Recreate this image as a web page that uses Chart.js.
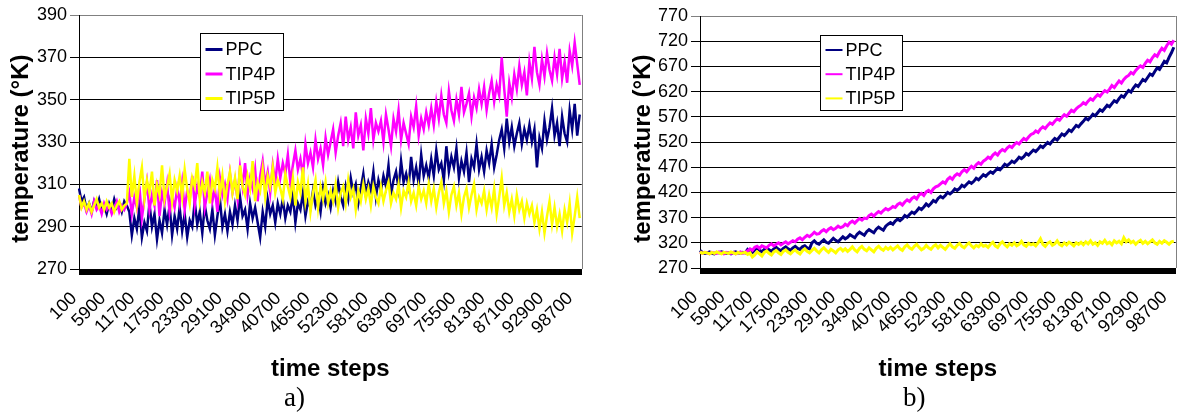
<!DOCTYPE html>
<html>
<head>
<meta charset="utf-8">
<script src="https://cdn.jsdelivr.net/npm/chart.js@4.4.1/dist/chart.umd.min.js"></script>
<style>
  html, body { margin: 0; padding: 0; background: #fff; }
  body { width: 1204px; height: 412px; position: relative; overflow: hidden; }
  .panel { position: absolute; top: 0; height: 395px; }
  #panelA { left: 0; width: 610px; }
  #panelB { left: 620px; width: 584px; }
  .caption { position: absolute; top: 384px; line-height: 27px; font-size: 27px; color: #000;
             font-family: "Liberation Serif", "Times New Roman", serif; }
</style>
</head>
<body>
<div class="panel" id="panelA"><canvas id="chartA"></canvas></div>
<div class="panel" id="panelB"><canvas id="chartB"></canvas></div>
<div class="caption" style="left:284px">a)</div>
<div class="caption" style="left:903px">b)</div>
<script>
// Time axis: one category every 100 simulation steps
const firstStep = 100;
const stepInterval = 100;
const stepCount = 1000;
// Temperatures were recorded every 500 steps
const sampleInterval = 500;

const xTickLabels = [100, 5900, 11700, 17500, 23300, 29100, 34900, 40700, 46500,
  52300, 58100, 63900, 69700, 75500, 81300, 87100, 92900, 98700];

const seriesNames = ['PPC', 'TIP4P', 'TIP5P'];
const seriesColors = ['#000080', '#FF00FF', '#FFFF00'];

const yTicksA = [270, 290, 310, 330, 350, 370, 390];
const yTicksB = [270, 320, 370, 420, 470, 520, 570, 620, 670, 720, 770];

// a) temperatures (K)
const ppcA = [
  308, 302, 304, 298, 301, 297, 302, 299, 303, 298, 300, 296, 301, 298, 303, 299, 301, 297, 302, 300,
  297, 286, 294, 289, 299, 285, 292, 288, 301, 290, 296, 284, 293, 287, 298, 291, 300, 286, 295, 289,
  299, 288, 296, 285, 293, 290, 302, 291, 297, 287, 300, 293, 289, 298, 286, 295, 303, 290, 296, 288,
  297, 291, 300, 293, 304, 295, 298, 289, 301, 294, 299, 292, 285, 297, 290, 303, 296, 300, 292, 301,
  296, 303, 294, 300, 297, 305, 292, 301, 298, 306, 295, 302, 299, 307, 300, 304, 297, 308, 301, 305,
  299, 307, 302, 311, 304, 300, 309, 303, 313, 306, 310, 301, 308, 315, 305, 311, 307, 316, 304, 312,
  307, 314, 309, 319, 305, 312, 316, 308, 321, 311, 315, 309, 323, 312, 318, 310, 324, 314, 319, 313,
  322, 314, 326, 317, 320, 312, 328, 316, 323, 318, 327, 313, 321, 316, 325, 311, 322, 318, 329, 317,
  323, 316, 326, 320, 329, 318, 324, 331, 336, 327, 341, 330, 337, 328, 334, 339, 329, 336, 331, 338,
  330, 336, 318, 332, 327, 340, 331, 337, 346, 333, 339, 328, 342, 334, 330, 345, 336, 348, 333, 343
];
const tip4pA = [
  305, 299, 301, 297, 300, 296, 302, 298, 300, 296, 301, 298, 300, 296, 299, 302, 297, 300, 298, 301,
  306, 296, 304, 299, 309, 294, 303, 311, 298, 305, 300, 312, 295, 306, 301, 310, 297, 304, 299, 308,
  301, 311, 298, 307, 303, 314, 300, 309, 304, 316, 299, 306, 312, 302, 308, 297, 313, 305, 310, 303,
  315, 306, 312, 303, 318, 309, 320, 305, 313, 308, 317, 302, 314, 321, 310, 316, 306, 319, 311, 322,
  313, 320, 315, 324, 311, 319, 326, 317, 322, 314, 329, 320, 325, 318, 331, 322, 327, 319, 332, 324,
  330, 336, 325, 333, 339, 328, 342, 331, 337, 327, 344, 333, 338, 326, 341, 334, 346, 331, 339, 335,
  340, 330, 343, 336, 328, 341, 335, 345, 331, 339, 334, 329, 342, 337, 347, 333, 341, 336, 344, 338,
  346, 338, 349, 341, 352, 343, 339, 354, 345, 340, 350, 343, 356, 344, 348, 353, 342, 351, 346, 355,
  348, 356, 345, 353, 359, 349, 357, 352, 370, 355, 342, 358, 351, 362, 355, 366, 357, 363, 352, 368,
  360, 375, 363, 357, 369, 361, 372, 364, 359, 370, 362, 374, 360, 368, 358, 373, 366, 377, 367, 357
];
const tip5pA = [
  305, 299, 302, 298, 301, 297, 300, 303, 299, 301, 298, 302, 299, 301, 297, 300, 302, 298, 300, 301,
  322, 304, 314, 301, 311, 318, 303, 312, 306, 316, 300, 310, 305, 319, 303, 309, 315, 302, 312, 307,
  314, 304, 317, 308, 301, 313, 309, 320, 303, 311, 306, 316, 301, 312, 308, 318, 305, 314, 302, 310,
  316, 306, 313, 303, 319, 309, 305, 314, 308, 321, 302, 311, 307, 317, 304, 314, 309, 318, 306, 312,
  308, 303, 315, 309, 304, 313, 300, 311, 306, 318, 302, 310, 297, 306, 312, 299, 309, 303, 311, 301,
  307, 302, 310, 299, 306, 309, 301, 312, 304, 308, 298, 307, 302, 310, 303, 308, 300, 309, 304, 301,
  309, 302, 307, 311, 301, 306, 303, 310, 299, 307, 304, 311, 302, 306, 300, 309, 303, 307, 301, 310,
  302, 308, 299, 306, 311, 301, 307, 297, 305, 309, 300, 306, 296, 304, 308, 299, 305, 310, 298, 304,
  301, 307, 298, 305, 299, 308, 296, 304, 313, 300, 306, 297, 303, 295, 305, 298, 302, 294, 301, 296,
  300, 292, 298, 289, 297, 287, 295, 302, 291, 299, 290, 296, 288, 298, 292, 301, 287, 295, 304, 294
];

// b) temperatures (K)
const ppcB = [
  305, 301, 299, 300, 302, 299, 298, 301, 300, 302, 301, 299, 300, 298, 301, 302, 300, 299, 301, 300,
  307, 303, 301, 306, 309, 305, 302, 307, 310, 306, 303, 308, 311, 307, 304, 309, 312, 308, 305, 310,
  313, 309, 307, 312, 314, 310, 308, 320, 324, 319, 317, 322, 326, 321, 319, 324, 329, 325, 322, 327,
  332, 328, 331, 336, 333, 330, 337, 341, 338, 335, 342, 346, 343, 340, 347, 351, 348, 345, 353, 357,
  360, 357, 363, 367, 364, 368, 374, 371, 376, 381, 378, 383, 389, 386, 391, 397, 393, 398, 404, 401,
  408, 412, 409, 414, 420, 417, 421, 427, 424, 428, 434, 431, 436, 441, 438, 442, 448, 445, 450, 455,
  452, 457, 461, 458, 463, 468, 465, 470, 476, 473, 477, 482, 479, 484, 490, 487, 491, 497, 494, 499,
  504, 501, 506, 512, 509, 514, 519, 516, 522, 527, 524, 530, 536, 533, 538, 544, 541, 547, 553, 550,
  556, 561, 567, 564, 569, 575, 572, 578, 584, 581, 587, 593, 590, 596, 602, 599, 606, 612, 609, 616,
  622, 619, 627, 633, 630, 637, 644, 641, 648, 655, 652, 660, 667, 664, 672, 680, 677, 688, 697, 708
];
const tip4pB = [
  302, 299, 301, 300, 298, 301, 300, 299, 302, 300, 298, 301, 300, 299, 301, 298, 300, 302, 299, 301,
  304, 308, 305, 311, 313, 309, 314, 312, 310, 315, 318, 314, 317, 320, 316, 319, 322, 318, 321, 324,
  322, 327, 330, 326, 331, 335, 332, 336, 341, 337, 338, 343, 346, 342, 347, 350, 346, 349, 353, 350,
  352, 357, 354, 360, 363, 359, 364, 368, 365, 369, 368, 374, 377, 373, 378, 382, 379, 384, 388, 385,
  388, 392, 390, 396, 399, 395, 401, 405, 402, 408, 411, 407, 415, 418, 414, 421, 424, 420, 427, 431,
  433, 437, 441, 438, 446, 450, 446, 453, 457, 454, 461, 465, 461, 467, 472, 468, 475, 479, 476, 482,
  485, 490, 487, 494, 498, 494, 501, 505, 502, 508, 512, 509, 515, 519, 516, 522, 527, 524, 530, 535,
  537, 542, 539, 546, 550, 547, 553, 558, 555, 561, 566, 563, 569, 574, 571, 577, 583, 580, 586, 590,
  593, 598, 595, 601, 606, 603, 609, 614, 611, 617, 622, 619, 625, 632, 628, 635, 641, 637, 644, 649,
  652, 658, 655, 662, 667, 671, 668, 676, 682, 679, 687, 693, 690, 699, 706, 702, 711, 718, 714, 722
];
const tip5pB = [
  302, 299, 301, 300, 298, 301, 299, 302, 300, 298, 301, 300, 299, 302, 300, 298, 301, 299, 300, 301,
  297, 300, 292, 296, 302, 298, 294, 301, 304, 299, 296, 302, 305, 300, 297, 303, 306, 301, 298, 303,
  306, 301, 298, 304, 308, 303, 300, 305, 309, 304, 300, 306, 310, 305, 301, 307, 304, 300, 306, 309,
  304, 308, 303, 307, 312, 306, 302, 309, 313, 307, 304, 310, 306, 302, 309, 313, 308, 305, 311, 307,
  311, 306, 310, 314, 308, 305, 312, 316, 310, 307, 313, 317, 311, 306, 309, 315, 310, 307, 313, 316,
  310, 315, 311, 307, 313, 318, 312, 309, 315, 319, 313, 310, 316, 320, 314, 310, 315, 312, 318, 313,
  315, 311, 317, 321, 314, 311, 318, 322, 316, 312, 318, 315, 320, 314, 317, 323, 316, 313, 319, 316,
  318, 314, 320, 328, 317, 313, 319, 322, 315, 318, 324, 317, 314, 320, 316, 321, 318, 314, 320, 317,
  321, 316, 322, 318, 324, 317, 320, 315, 322, 319, 325, 318, 321, 316, 324, 320, 323, 318, 330, 322,
  326, 320, 323, 317, 322, 325, 319, 323, 318, 322, 326, 320, 317, 323, 319, 324, 321, 317, 322, 323
];

const timeSteps = [];
for (let k = 0; k < stepCount; k++) timeSteps.push(firstStep + k * stepInterval);
const labelledSteps = new Set(xTickLabels);

const FONT = "'Liberation Sans', Arial, Helvetica, sans-serif";
Chart.defaults.font.family = FONT;
Chart.defaults.color = '#000';

function toPoints(values) {
  return values.map((v, i) => ({ x: firstStep + i * sampleInterval, y: v }));
}

// Boxed legend drawn inside the plot area
const boxedLegend = {
  id: 'boxedLegend',
  afterDatasetsDraw(chart, args, o) {
    const { ctx, chartArea } = chart;
    const x0 = Math.round(chartArea.left + o.left) + 0.5;
    const y0 = Math.round(chartArea.top + o.top) + 0.5;
    ctx.save();
    ctx.fillStyle = '#fff';
    ctx.fillRect(x0, y0, o.width, o.height);
    ctx.strokeStyle = '#000';
    ctx.lineWidth = 1;
    ctx.strokeRect(x0, y0, o.width, o.height);
    ctx.font = o.fontSize + 'px ' + FONT;
    ctx.textBaseline = 'middle';
    ctx.textAlign = 'left';
    chart.data.datasets.forEach((ds, k) => {
      const cy = y0 + o.firstRow + k * o.rowHeight;
      ctx.strokeStyle = ds.borderColor;
      ctx.lineWidth = o.sampleWidth;
      ctx.beginPath();
      ctx.moveTo(x0 + 5, cy);
      ctx.lineTo(x0 + 22, cy);
      ctx.stroke();
      ctx.fillStyle = '#000';
      ctx.fillText(ds.label, x0 + 25, cy + 1);
    });
    ctx.restore();
  }
};

// Grey frame on the right edge of the plot area
const plotFrame = {
  id: 'plotFrame',
  beforeDatasetsDraw(chart) {
    const { ctx, chartArea } = chart;
    const x = Math.round(chartArea.right) + 0.5;
    ctx.save();
    ctx.strokeStyle = '#808080';
    ctx.lineWidth = 1;
    ctx.beginPath();
    ctx.moveTo(x, chartArea.top);
    ctx.lineTo(x, chartArea.bottom);
    ctx.stroke();
    ctx.restore();
  }
};

function makeChart(id, seriesValues, yTicks, geom) {
  const yMin = yTicks[0], yMax = yTicks[yTicks.length - 1];
  const datasets = seriesValues.map((vals, k) => ({
    label: seriesNames[k],
    data: toPoints(vals),
    borderColor: seriesColors[k],
    backgroundColor: seriesColors[k],
    borderWidth: geom.lineWidth,
    pointRadius: 0,
    tension: 0,
    fill: false,
    order: seriesValues.length - k
  }));
  return new Chart(document.getElementById(id), {
    type: 'line',
    data: { labels: timeSteps, datasets },
    plugins: [plotFrame, boxedLegend],
    options: {
      responsive: true,
      maintainAspectRatio: false,
      animation: false,
      events: [],
      layout: { padding: { top: geom.top, right: geom.right, bottom: 0, left: 0 } },
      plugins: {
        legend: { display: false },
        tooltip: { enabled: false },
        boxedLegend: geom.legend
      },
      scales: {
        x: {
          type: 'category',
          offset: false,
          grid: { drawOnChartArea: false, drawTicks: true, tickLength: 6, color: '#000', lineWidth: 1 },
          border: { display: true, color: '#000', width: 1 },
          ticks: {
            autoSkip: false,
            minRotation: 45,
            maxRotation: 45,
            padding: 13,
            labelOffset: -5,
            font: { size: 18 },
            color: '#000',
            callback: function (value) {
              const step = this.getLabelForValue(value);
              return labelledSteps.has(step) ? String(step) : '';
            }
          },
          title: {
            display: true,
            text: 'time steps',
            font: { size: 24, weight: 'bold' },
            color: '#000',
            padding: { top: 0, bottom: 11 }
          },
          afterFit: s => { s.height = geom.xHeight; }
        },
        y: {
          min: yMin,
          max: yMax,
          grid: {
            color: c => (c.tick && c.tick.value === yMax ? '#808080' : '#000'),
            lineWidth: 1,
            drawTicks: true,
            tickLength: 9
          },
          border: { display: true, color: '#000', width: 1 },
          afterBuildTicks: s => { s.ticks = yTicks.map(v => ({ value: v })); },
          ticks: { font: { size: 18 }, color: '#000', padding: 3 },
          title: {
            display: true,
            text: 'temperature (°K)  ',
            font: { size: 24, weight: 'bold' },
            color: '#000',
            padding: { top: geom.titlePad, bottom: 0 }
          },
          afterFit: s => { s.width = geom.yWidth; }
        }
      }
    }
  });
}

makeChart('chartA', [ppcA, tip4pA, tip5pA], yTicksA, {
  top: 15, right: 23, xHeight: 126, yWidth: 79, titlePad: 7, lineWidth: 2.5,
  legend: { left: 121, top: 18, width: 83, height: 77, firstRow: 16, rowHeight: 24.5, fontSize: 18, sampleWidth: 3 }
});

makeChart('chartB', [ppcB, tip4pB, tip5pB], yTicksB, {
  top: 16, right: 2, xHeight: 127, yWidth: 80, titlePad: 8.6, lineWidth: 3,
  legend: { left: 120, top: 19, width: 82, height: 75, firstRow: 14.5, rowHeight: 24.2, fontSize: 18, sampleWidth: 2 }
});
</script>
</body>
</html>
